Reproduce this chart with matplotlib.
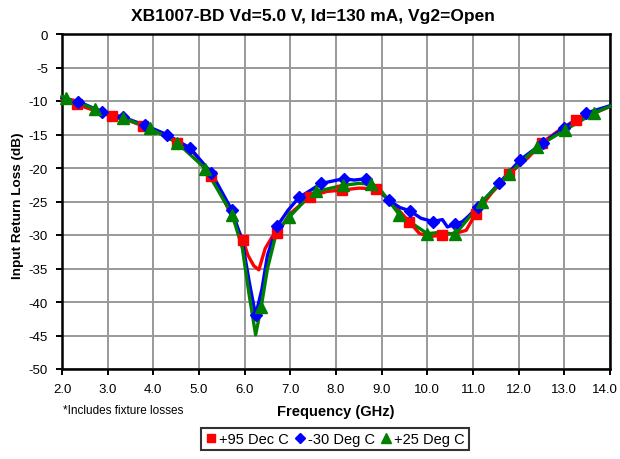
import matplotlib
matplotlib.use("Agg")
import matplotlib.pyplot as plt
from matplotlib.lines import Line2D
import matplotlib.transforms as mtransforms

plt.rcParams['font.family'] = ['Liberation Sans', 'DejaVu Sans']

# ---- data ----
red_f = [2.0, 2.32, 2.7, 3.09, 3.4, 3.78, 4.2, 4.52, 4.9, 5.27, 5.6, 5.96, 6.07, 6.2, 6.31,
         6.45, 6.6, 6.71, 7.0, 7.42, 7.8, 8.13, 8.5, 8.88, 9.2, 9.6, 9.83, 10.1, 10.33,
         10.7, 10.85, 11.06, 11.4, 11.79, 12.2, 12.52, 12.9, 13.25, 13.6, 14.0]
red_v = [-9.8, -10.5, -11.4, -12.3, -12.8, -13.7, -15.0, -16.2, -17.8, -21.2, -25.5, -30.7,
         -33.0, -34.6, -35.2, -32.0, -30.3, -29.7, -26.8, -24.3, -23.5, -23.3, -23.0, -23.1,
         -25.0, -28.0, -29.8, -30.2, -30.0, -29.6, -29.3, -26.8, -23.8, -20.9, -18.5, -16.2,
         -14.3, -12.8, -12.0, -10.8]
red_mf = [2.32, 3.09, 3.78, 4.52, 5.27, 5.96, 6.71, 7.42, 8.13, 8.88, 9.6, 10.33, 11.06,
          11.79, 12.52, 13.25]
red_mv = [-10.5, -12.3, -13.7, -16.2, -21.2, -30.7, -29.7, -24.3, -23.3, -23.1, -28.0,
          -30.0, -26.8, -20.9, -16.2, -12.8]

blue_f = [2.0, 2.36, 2.87, 3.33, 3.81, 4.29, 4.8, 5.27, 5.72, 5.95, 6.1, 6.24, 6.38, 6.5,
          6.71, 6.95, 7.19, 7.45, 7.68, 8.17, 8.4, 8.66, 8.9, 9.15, 9.4, 9.62, 9.86, 10.12,
          10.33, 10.44, 10.61, 10.77, 10.9, 11.1, 11.57, 12.03, 12.54, 13.0, 13.48, 14.0]
blue_v = [-9.5, -10.1, -11.6, -12.4, -13.6, -15.0, -17.0, -20.7, -26.3, -31.0, -37.0, -42.0,
          -38.0, -33.0, -28.7, -26.3, -24.4, -23.3, -22.3, -21.6, -21.8, -21.6, -23.0, -24.8,
          -25.9, -26.4, -27.5, -28.0, -27.7, -28.8, -28.4, -28.0, -27.2, -25.8, -22.3, -18.8,
          -16.2, -14.0, -11.8, -10.7]
blue_mf = [2.36, 2.87, 3.33, 3.81, 4.29, 4.8, 5.27, 5.72, 6.24, 6.71, 7.19, 7.68, 8.17, 8.66,
           9.15, 9.62, 10.12, 10.61, 11.1, 11.57, 12.03, 12.54, 13.0, 13.48]
blue_mv = [-10.1, -11.6, -12.4, -13.6, -15.0, -17.0, -20.7, -26.3, -42.0, -28.7, -24.4, -22.3,
           -21.6, -21.6, -24.8, -26.4, -28.0, -28.4, -25.8, -22.3, -18.8, -16.2, -14.0, -11.8]

green_f = [2.0, 2.09, 2.72, 3.34, 3.92, 4.52, 5.14, 5.73, 5.95, 6.1, 6.24, 6.36, 6.5, 6.7,
           6.98, 7.3, 7.57, 8.15, 8.5, 8.77, 9.0, 9.39, 10.0, 10.3, 10.61, 10.9, 11.2, 11.79,
           12.41, 13.02, 13.65, 14.0]
green_v = [-9.3, -9.6, -11.2, -12.5, -14.1, -16.2, -20.1, -27.0, -32.0, -39.0, -44.9, -40.8,
           -35.0, -29.5, -27.3, -25.0, -23.5, -22.6, -22.3, -22.4, -23.5, -27.0, -29.8, -29.6,
           -29.9, -27.5, -25.0, -20.9, -16.8, -14.3, -11.8, -10.8]
green_mf = [2.09, 2.72, 3.34, 3.92, 4.52, 5.14, 5.73, 6.36, 6.98, 7.57, 8.15, 8.77, 9.39,
            10.0, 10.61, 11.2, 11.79, 12.41, 13.02, 13.65]
green_mv = [-9.6, -11.2, -12.5, -14.1, -16.2, -20.1, -27.0, -40.8, -27.3, -23.5, -22.6, -22.4,
            -27.0, -29.8, -29.9, -25.0, -20.9, -16.8, -14.3, -11.8]

labels = ['+95 Dec C', '-30 Deg C', '+25 Deg C']
x_ticks = [2.0, 3.0, 4.0, 5.0, 6.0, 7.0, 8.0, 9.0, 10.0, 11.0, 12.0, 13.0, 14.0]
y_ticks = [0, -5, -10, -15, -20, -25, -30, -35, -40, -45, -50]

# ---- figure ----
fig = plt.figure(figsize=(6.2, 4.6), dpi=100)
ax = fig.add_axes([62/620, 1-370/460, (610-62)/620, (370-35)/460])

series = [
    (red_f, red_v, red_mf, red_mv, '#FF0000', 's', 7.5),
    (blue_f, blue_v, blue_mf, blue_mv, '#0000FF', 'D', 6.3),
    (green_f, green_v, green_mf, green_mv, '#008000', '^', 8.5),
]
handles = []
for (f, v, mf, mv, c, m, ms), lab in zip(series, labels):
    ax.plot(f, v, color=c, lw=2.4, solid_joinstyle='round', zorder=3, clip_on=False)
    ax.plot(mf, mv, linestyle='none', marker=m, ms=ms, color=c, zorder=4, clip_on=False)
    handles.append(Line2D([], [], linestyle='none', marker=m, color=c, ms=ms - 1.5, label=lab))

ax.set_xlim(2.0, 14.0)
ax.set_ylim(-50, 0)
ax.set_xticks(x_ticks)
ax.set_xticklabels([f"{t:.1f}" for t in x_ticks], fontsize=9.5)
ax.set_yticks(y_ticks)
ax.set_yticklabels([str(t) for t in y_ticks], fontsize=9.5)
ax.grid(True, color='#999999', lw=1.4)
ax.set_axisbelow(True)
for s in ax.spines.values():
    s.set_linewidth(1.8)
    s.set_color('black')
ax.tick_params(axis='both', direction='out', length=4, width=1.4, color='black', pad=6)
# nudge the last x tick label slightly left so it stays inside the picture
last = ax.get_xticklabels()[-1]
last.set_transform(last.get_transform() + mtransforms.ScaledTranslation(-5/100, 0, fig.dpi_scale_trans))

ax.set_ylabel('Input Return Loss (dB)', fontsize=9.7, fontweight='bold')
ax.yaxis.set_label_coords(-0.07, 0.49)
fig.text(336/620, 1-412/460, 'Frequency (GHz)', ha='center', va='center',
         fontsize=10.5, fontweight='bold')
fig.text(63/620, 1-411/460, '*Includes fixture losses', ha='left', va='center', fontsize=8.5)
fig.text(313/620, 1-17/460, 'XB1007-BD Vd=5.0 V, Id=130 mA, Vg2=Open', ha='center',
         va='center', fontsize=12.5, fontweight='bold')

leg = fig.legend(handles=handles, loc='center', bbox_to_anchor=(335/620, 1-440/460), ncol=3,
                 frameon=True, fancybox=False, edgecolor='black', fontsize=10.5,
                 handlelength=0.7, handletextpad=0.2, columnspacing=0.4, borderpad=0.3,
                 borderaxespad=0)
leg.get_frame().set_linewidth(1.5)

fig.savefig('out.png', dpi=100)
